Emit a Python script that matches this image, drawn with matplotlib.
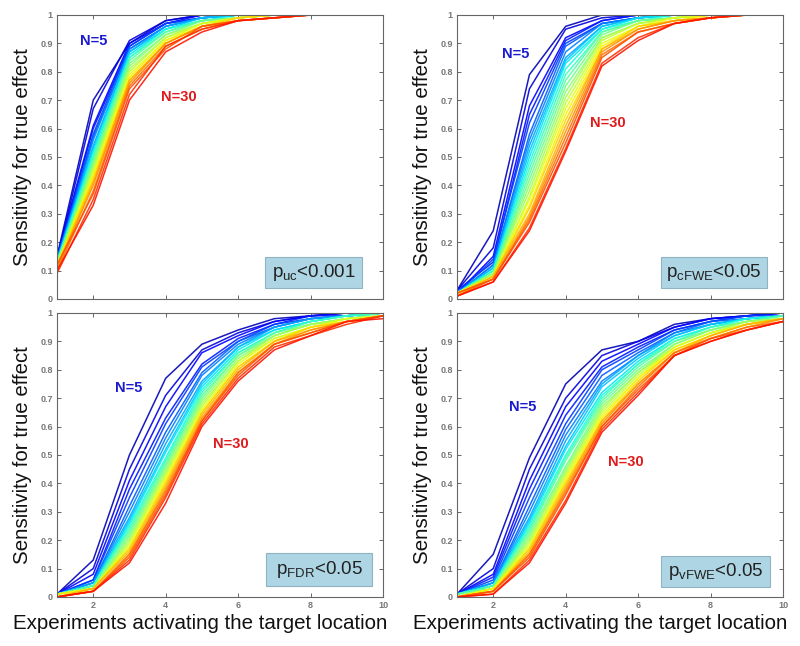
import matplotlib
matplotlib.use("Agg")
import matplotlib.pyplot as plt
from matplotlib.patches import Rectangle
import numpy as np

plt.rcParams['font.family'] = ['Liberation Sans', 'DejaVu Sans']
plt.rcParams['mathtext.fontset'] = 'custom'
plt.rcParams['mathtext.rm'] = 'Liberation Sans'
plt.rcParams['mathtext.it'] = 'Liberation Sans'

# ---------------- data ----------------
experiments = [1, 2, 3, 4, 5, 6, 7, 8, 9, 10]
sample_sizes = [5, 6, 7, 8, 9, 10, 11, 12, 13, 14, 15, 16, 17, 18, 19, 20,
                21, 22, 23, 24, 25, 26, 27, 28, 29, 30]
x_tick_values = [2, 4, 6, 8, 10]
x_tick_labels = ["2", "4", "6", "8", "10"]
y_tick_values = [0, 0.1, 0.2, 0.3, 0.4, 0.5, 0.6, 0.7, 0.8, 0.9, 1.0]
y_tick_labels = ["0", "0.1", "0.2", "0.3", "0.4", "0.5", "0.6", "0.7", "0.8", "0.9", "1"]

# each inner list: sensitivity at one experiment count, for N = 5 ... 30
sens_uc = [
    [0.15, 0.14, 0.15, 0.14, 0.14, 0.14, 0.13, 0.14, 0.13, 0.13, 0.13, 0.13, 0.12,
     0.13, 0.12, 0.12, 0.12, 0.12, 0.11, 0.12, 0.11, 0.11, 0.10, 0.12, 0.09, 0.10],
    [0.70, 0.67, 0.61, 0.60, 0.58, 0.57, 0.56, 0.54, 0.53, 0.52, 0.51, 0.50, 0.49,
     0.48, 0.47, 0.46, 0.45, 0.44, 0.43, 0.42, 0.41, 0.40, 0.38, 0.37, 0.35, 0.33],
    [0.90, 0.91, 0.90, 0.89, 0.89, 0.88, 0.88, 0.87, 0.87, 0.86, 0.85, 0.85, 0.84,
     0.83, 0.82, 0.81, 0.80, 0.79, 0.78, 0.77, 0.77, 0.76, 0.75, 0.74, 0.72, 0.70],
    [0.98, 0.98, 0.97, 0.97, 0.97, 0.96, 0.96, 0.96, 0.95, 0.95, 0.95, 0.94, 0.94,
     0.93, 0.93, 0.92, 0.92, 0.91, 0.91, 0.90, 0.90, 0.90, 0.89, 0.88, 0.89, 0.87],
    [1.00, 1.00, 1.00, 0.99, 0.99, 0.99, 0.99, 0.99, 0.99, 0.98, 0.98, 0.98, 0.98,
     0.98, 0.97, 0.97, 0.97, 0.97, 0.96, 0.96, 0.96, 0.96, 0.95, 0.96, 0.95, 0.94],
    [1.00, 1.00, 1.00, 1.00, 1.00, 1.00, 1.00, 1.00, 1.00, 1.00, 0.99, 0.99, 0.99,
     0.99, 0.99, 0.99, 0.99, 0.99, 0.99, 0.99, 0.98, 0.98, 0.98, 0.98, 0.98, 0.98],
    [1.00, 1.00, 1.00, 1.00, 1.00, 1.00, 1.00, 1.00, 1.00, 1.00, 1.00, 1.00, 1.00,
     1.00, 1.00, 1.00, 1.00, 1.00, 1.00, 1.00, 0.99, 0.99, 0.99, 0.99, 0.99, 0.99],
    [1.00] * 26,
    [1.00] * 26,
    [1.00] * 26,
]

sens_cfwe = [
    [0.03, 0.03, 0.02, 0.03, 0.02, 0.02, 0.02, 0.02, 0.02, 0.02, 0.02, 0.02, 0.02,
     0.02, 0.02, 0.02, 0.02, 0.02, 0.02, 0.02, 0.01, 0.02, 0.01, 0.02, 0.01, 0.01],
    [0.24, 0.18, 0.15, 0.13, 0.14, 0.12, 0.12, 0.11, 0.11, 0.10, 0.10, 0.10, 0.09,
     0.09, 0.09, 0.09, 0.08, 0.08, 0.08, 0.08, 0.08, 0.07, 0.07, 0.07, 0.06, 0.06],
    [0.79, 0.74, 0.68, 0.65, 0.62, 0.58, 0.56, 0.54, 0.52, 0.50, 0.48, 0.46, 0.44,
     0.42, 0.40, 0.38, 0.36, 0.35, 0.33, 0.32, 0.30, 0.29, 0.28, 0.27, 0.25, 0.24],
    [0.96, 0.95, 0.92, 0.91, 0.90, 0.89, 0.87, 0.85, 0.84, 0.83, 0.81, 0.79, 0.77,
     0.75, 0.73, 0.71, 0.69, 0.67, 0.65, 0.63, 0.61, 0.59, 0.57, 0.55, 0.53, 0.52],
    [1.00, 0.99, 0.98, 0.98, 0.97, 0.97, 0.97, 0.96, 0.96, 0.95, 0.95, 0.94, 0.94,
     0.93, 0.92, 0.92, 0.91, 0.90, 0.89, 0.88, 0.88, 0.87, 0.86, 0.85, 0.83, 0.82],
    [1.00, 1.00, 1.00, 1.00, 0.99, 0.99, 0.99, 0.99, 0.99, 0.99, 0.98, 0.98, 0.98,
     0.98, 0.97, 0.97, 0.97, 0.96, 0.96, 0.96, 0.95, 0.95, 0.94, 0.94, 0.92, 0.91],
    [1.00, 1.00, 1.00, 1.00, 1.00, 1.00, 1.00, 1.00, 1.00, 1.00, 1.00, 0.99, 0.99,
     0.99, 0.99, 0.99, 0.99, 0.99, 0.98, 0.98, 0.98, 0.98, 0.97, 0.97, 0.97, 0.97],
    [1.00, 1.00, 1.00, 1.00, 1.00, 1.00, 1.00, 1.00, 1.00, 1.00, 1.00, 1.00, 1.00,
     1.00, 1.00, 1.00, 1.00, 1.00, 1.00, 0.99, 0.99, 0.99, 0.99, 0.99, 0.99, 0.99],
    [1.00] * 26,
    [1.00] * 26,
]

sens_fdr = [
    [0.01, 0.01, 0.01, 0.01, 0.01, 0.01, 0.01, 0.01, 0.01, 0.01, 0.01, 0.01, 0.01,
     0.01, 0.01, 0.01, 0.01, 0.00, 0.01, 0.00, 0.00, 0.00, 0.00, 0.00, 0.00, 0.00],
    [0.13, 0.10, 0.08, 0.06, 0.06, 0.05, 0.05, 0.05, 0.04, 0.04, 0.04, 0.04, 0.04,
     0.03, 0.03, 0.03, 0.03, 0.03, 0.03, 0.03, 0.03, 0.02, 0.02, 0.02, 0.02, 0.02],
    [0.50, 0.45, 0.41, 0.38, 0.35, 0.32, 0.30, 0.28, 0.27, 0.26, 0.25, 0.24, 0.23,
     0.22, 0.21, 0.20, 0.19, 0.18, 0.17, 0.17, 0.16, 0.15, 0.15, 0.14, 0.13, 0.12],
    [0.77, 0.71, 0.67, 0.63, 0.61, 0.58, 0.56, 0.54, 0.52, 0.51, 0.49, 0.48, 0.47,
     0.46, 0.45, 0.44, 0.43, 0.42, 0.41, 0.40, 0.39, 0.38, 0.37, 0.36, 0.35, 0.33],
    [0.89, 0.87, 0.86, 0.82, 0.81, 0.79, 0.78, 0.76, 0.75, 0.74, 0.73, 0.72, 0.71,
     0.70, 0.69, 0.68, 0.67, 0.66, 0.65, 0.65, 0.64, 0.63, 0.62, 0.62, 0.61, 0.60],
    [0.94, 0.93, 0.92, 0.91, 0.90, 0.90, 0.89, 0.88, 0.88, 0.87, 0.86, 0.86, 0.85,
     0.85, 0.84, 0.83, 0.83, 0.82, 0.81, 0.81, 0.80, 0.79, 0.79, 0.78, 0.77, 0.76],
    [0.98, 0.97, 0.97, 0.96, 0.96, 0.95, 0.95, 0.95, 0.94, 0.94, 0.93, 0.93, 0.93,
     0.92, 0.92, 0.92, 0.91, 0.91, 0.90, 0.90, 0.90, 0.89, 0.89, 0.89, 0.88, 0.87],
    [0.99, 0.99, 0.99, 0.99, 0.98, 0.98, 0.98, 0.98, 0.97, 0.97, 0.97, 0.97, 0.96,
     0.96, 0.96, 0.96, 0.95, 0.95, 0.95, 0.95, 0.94, 0.94, 0.93, 0.93, 0.92, 0.92],
    [1.00, 1.00, 1.00, 0.99, 0.99, 0.99, 0.99, 0.99, 0.99, 0.99, 0.99, 0.99, 0.98,
     0.98, 0.98, 0.98, 0.98, 0.98, 0.97, 0.97, 0.97, 0.97, 0.97, 0.97, 0.96, 0.97],
    [1.00, 1.00, 1.00, 1.00, 1.00, 1.00, 1.00, 1.00, 1.00, 1.00, 1.00, 1.00, 1.00,
     0.99, 0.99, 0.99, 0.99, 0.99, 0.99, 0.99, 0.99, 0.99, 0.99, 0.99, 0.99, 0.98],
]

sens_vfwe = [
    [0.01, 0.01, 0.01, 0.01, 0.01, 0.01, 0.01, 0.01, 0.01, 0.01, 0.01, 0.01, 0.00,
     0.01, 0.00, 0.00, 0.00, 0.00, 0.00, 0.00, 0.00, 0.00, 0.00, 0.00, 0.00, 0.00],
    [0.15, 0.10, 0.08, 0.07, 0.06, 0.05, 0.05, 0.05, 0.04, 0.04, 0.04, 0.04, 0.04,
     0.03, 0.03, 0.03, 0.03, 0.03, 0.03, 0.02, 0.02, 0.02, 0.02, 0.02, 0.01, 0.01],
    [0.49, 0.45, 0.41, 0.38, 0.35, 0.32, 0.30, 0.28, 0.27, 0.26, 0.25, 0.24, 0.23,
     0.22, 0.21, 0.20, 0.19, 0.18, 0.17, 0.17, 0.16, 0.15, 0.15, 0.14, 0.13, 0.12],
    [0.75, 0.70, 0.67, 0.64, 0.61, 0.59, 0.57, 0.55, 0.53, 0.52, 0.50, 0.49, 0.48,
     0.46, 0.45, 0.44, 0.43, 0.42, 0.41, 0.40, 0.39, 0.38, 0.37, 0.36, 0.34, 0.33],
    [0.87, 0.85, 0.83, 0.81, 0.80, 0.78, 0.76, 0.75, 0.74, 0.72, 0.71, 0.70, 0.69,
     0.68, 0.67, 0.66, 0.65, 0.64, 0.63, 0.62, 0.62, 0.61, 0.60, 0.60, 0.59, 0.58],
    [0.90, 0.90, 0.89, 0.88, 0.87, 0.86, 0.85, 0.85, 0.84, 0.83, 0.82, 0.82, 0.81,
     0.80, 0.79, 0.79, 0.78, 0.77, 0.77, 0.76, 0.75, 0.75, 0.74, 0.73, 0.72, 0.71],
    [0.96, 0.95, 0.95, 0.94, 0.94, 0.93, 0.93, 0.92, 0.92, 0.91, 0.91, 0.90, 0.90,
     0.89, 0.89, 0.88, 0.88, 0.88, 0.87, 0.87, 0.86, 0.86, 0.86, 0.85, 0.85, 0.85],
    [0.98, 0.98, 0.98, 0.97, 0.97, 0.97, 0.96, 0.96, 0.96, 0.95, 0.95, 0.95, 0.94,
     0.94, 0.94, 0.93, 0.93, 0.93, 0.92, 0.92, 0.92, 0.91, 0.91, 0.91, 0.90, 0.90],
    [0.99, 0.99, 0.99, 0.99, 0.99, 0.98, 0.98, 0.98, 0.98, 0.98, 0.98, 0.97, 0.97,
     0.97, 0.97, 0.97, 0.96, 0.96, 0.96, 0.96, 0.96, 0.95, 0.95, 0.94, 0.94, 0.94],
    [1.00, 1.00, 1.00, 1.00, 0.99, 0.99, 0.99, 0.99, 0.99, 0.99, 0.99, 0.99, 0.99,
     0.98, 0.98, 0.98, 0.98, 0.98, 0.98, 0.98, 0.98, 0.98, 0.97, 0.97, 0.97, 0.97],
]

threshold_labels = [r"p$_{\mathregular{uc}}$<0.001", r"p$_{\mathregular{cFWE}}$<0.05",
                    r"p$_{\mathregular{FDR}}$<0.05", r"p$_{\mathregular{vFWE}}$<0.05"]
small_n_label = "N=5"
large_n_label = "N=30"
ylabel_text = "Sensitivity for true effect"
xlabel_text = "Experiments activating the target location"

# ---------------- layout / style ----------------
panels = [
    # data, axes rect, box rect (axes frac), N=5 pos, N=30 pos, bottom row
    (sens_uc,   [0.07125, 0.5372, 0.4075, 0.4396], (0.638, 0.039, 0.298, 0.109), (2.02, 0.908), (4.37, 0.711), False),
    (sens_cfwe, [0.57125, 0.5372, 0.4075, 0.4396], (0.626, 0.039, 0.325, 0.109), (2.63, 0.863), (5.17, 0.620), False),
    (sens_fdr,  [0.07125, 0.0759, 0.4075, 0.4396], (0.641, 0.039, 0.325, 0.116), (2.99, 0.736), (5.81, 0.539), True),
    (sens_vfwe, [0.57125, 0.0759, 0.4075, 0.4396], (0.626, 0.035, 0.334, 0.109), (2.82, 0.669), (5.67, 0.475), True),
]

fig = plt.figure(figsize=(8.0, 6.46), dpi=100)
cmap = plt.get_cmap('jet')
colors = cmap(np.linspace(0.05, 0.89, len(sample_sizes)))

for (data, rect, box, p5, p30, bottom), label in zip(panels, threshold_labels):
    ax = fig.add_axes(rect)
    arr = np.array(data)  # shape (n_x, n_lines)
    for j, n in enumerate(sample_sizes):
        ax.plot(experiments, arr[:, j], color=colors[j], lw=1.1, alpha=0.9)
    ax.set_xlim(1, 10)
    ax.set_ylim(0, 1)
    ax.set_xticks(x_tick_values)
    ax.set_yticks(y_tick_values)
    ax.set_yticklabels(y_tick_labels)
    if bottom:
        ax.set_xticklabels(x_tick_labels)
        ax.set_xlabel(xlabel_text, fontsize=14.8, color='#111111')
        ax.xaxis.set_label_coords(0.439, -0.06)
    else:
        ax.set_xticklabels([])
    ax.set_ylabel(ylabel_text, fontsize=14.8, color='#111111', labelpad=6)
    ax.tick_params(direction='in', length=3, width=0.7, colors='#666666',
                   labelsize=6.5, top=True, right=True, pad=3)
    for t in ax.get_xticklabels() + ax.get_yticklabels():
        t.set_fontweight('bold')
        t.set_color('#777777')
    for s in ax.spines.values():
        s.set_color('#666666')
        s.set_linewidth(0.8)
    ax.add_patch(Rectangle((box[0], box[1]), box[2], box[3], transform=ax.transAxes,
                           facecolor='#add5e3', edgecolor='#8fb3c2', lw=0.8, zorder=5))
    ax.text(box[0] + box[2] / 2, box[1] + box[3] / 2, label, transform=ax.transAxes,
            ha='center', va='center', fontsize=13.5, color='#222222', zorder=6)
    ax.text(p5[0], p5[1], small_n_label, color='#1a1ad0', fontsize=10.5,
            fontweight='bold', ha='center', va='center')
    ax.text(p30[0], p30[1], large_n_label, color='#e01a1a', fontsize=10.5,
            fontweight='bold', ha='center', va='center')

fig.savefig("out.png", dpi=100)
